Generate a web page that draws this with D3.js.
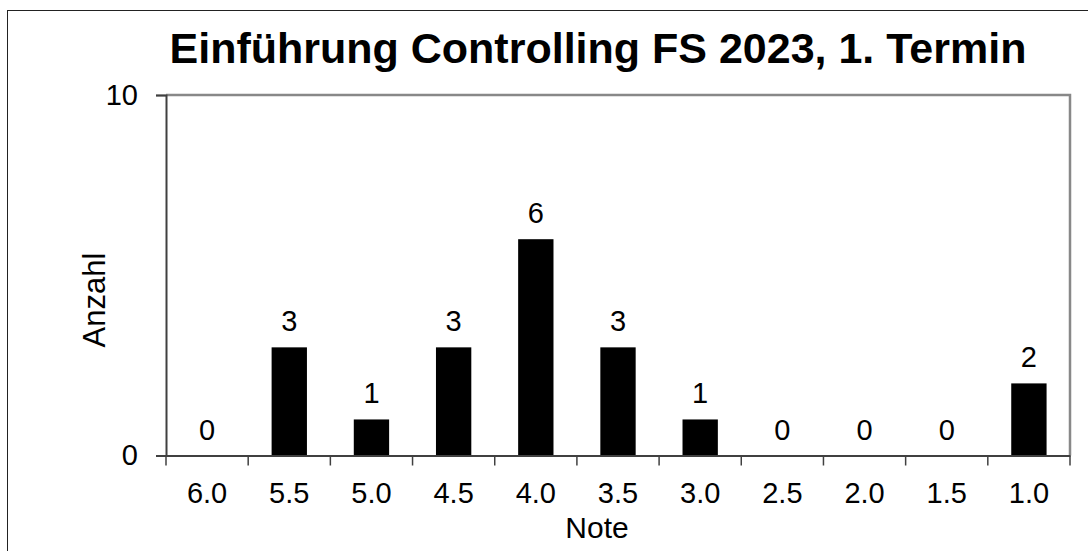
<!doctype html>
<html>
<head>
<meta charset="utf-8">
<script src="https://d3js.org/d3.v7.min.js"></script>
<style>
    body { margin: 0; background: #fff; }
    text { font-family: "Liberation Sans", Arial, sans-serif; fill: #000; }
</style>
</head>
<body>
<div id="chart"></div>
<script>

    // data
    var notes = ["6.0", "5.5", "5.0", "4.5", "4.0", "3.5", "3.0", "2.5", "2.0", "1.5", "1.0"];
    var counts = [0, 3, 1, 3, 6, 3, 1, 0, 0, 0, 2];
    var yTicks = [0, 10];

    var W = 1088, H = 551;
    var margin = {top: 95, right: 18, bottom: 95.5, left: 166},
        width = W - margin.left - margin.right,
        height = H - margin.top - margin.bottom;

    var root = d3.select("#chart").append("svg")
        .attr("width", W)
        .attr("height", H);

    // outer frame (right / bottom run off the picture)
    root.append("rect")
        .attr("x", 7.5).attr("y", 10.5)
        .attr("width", 1200).attr("height", 800)
        .attr("fill", "none")
        .attr("stroke", "#222")
        .attr("stroke-width", 1);

    root.append("text")
        .attr("x", 598)
        .attr("y", 63)
        .attr("text-anchor", "middle")
        .attr("font-size", "43px")
        .attr("font-weight", "bold")
        .text("Einführung Controlling FS 2023, 1. Termin");

    var svg = root.append("g")
        .attr("transform", "translate(" + margin.left + "," + margin.top + ")");

    var x = d3.scaleBand().domain(notes).range([0, width]).padding(0);
    var y = d3.scaleLinear().domain([0, 10]).range([height, 0]);

    // plot frame: top and right in light gray
    svg.append("path")
        .attr("d", "M0," + y(10) + "H" + width + "V" + y(0))
        .attr("fill", "none")
        .attr("stroke", "#888")
        .attr("stroke-width", 2.5);

    // bars
    var barW = x.bandwidth() * 0.43;
    svg.selectAll(".bar")
        .data(counts)
        .enter().append("rect")
        .attr("class", "bar")
        .attr("x", function(d, i) { return x(notes[i]) + (x.bandwidth() - barW) / 2; })
        .attr("width", barW)
        .attr("y", function(d) { return y(d); })
        .attr("height", function(d) { return y(0) - y(d); })
        .attr("fill", "#000");

    // value labels
    svg.selectAll(".val")
        .data(counts)
        .enter().append("text")
        .attr("class", "val")
        .attr("x", function(d, i) { return x(notes[i]) + x.bandwidth() / 2; })
        .attr("y", function(d) { return y(d) - 16; })
        .attr("text-anchor", "middle")
        .attr("font-size", "29px")
        .text(function(d) { return d; });

    // y axis
    var yAxis = svg.append("g")
        .call(d3.axisLeft(y).tickValues(yTicks).tickSize(10).tickPadding(18));
    yAxis.select(".domain").attr("stroke", "#404040").attr("stroke-width", 2);
    yAxis.selectAll(".tick line").attr("stroke", "#404040").attr("stroke-width", 1.5);
    yAxis.selectAll(".tick text")
        .attr("font-size", "29px")
        .attr("font-family", "Liberation Sans, Arial, sans-serif")
        .attr("fill", "#000");

    // x axis: labels centred, ticks on the category boundaries
    var xAxis = svg.append("g")
        .attr("transform", "translate(0," + height + ")")
        .call(d3.axisBottom(x).tickSize(0).tickPadding(27));
    xAxis.select(".domain").attr("stroke", "#404040").attr("stroke-width", 2);
    xAxis.selectAll(".tick text")
        .attr("font-size", "29px")
        .attr("font-family", "Liberation Sans, Arial, sans-serif")
        .attr("fill", "#000");

    var edges = notes.map(function(n) { return x(n); }).concat([width]);
    xAxis.selectAll(".edge")
        .data(edges)
        .enter().append("line")
        .attr("class", "edge")
        .attr("x1", function(d) { return d; })
        .attr("x2", function(d) { return d; })
        .attr("y1", 0)
        .attr("y2", 10)
        .attr("stroke", "#404040")
        .attr("stroke-width", 1.5);

    // axis titles
    svg.append("text")
        .attr("x", 597 - margin.left)
        .attr("y", height + 82)
        .attr("text-anchor", "middle")
        .attr("font-size", "30px")
        .text("Note");

    svg.append("text")
        .attr("transform", "translate(" + (105 - margin.left) + "," + (300 - margin.top) + ") rotate(-90)")
        .attr("text-anchor", "middle")
        .attr("font-size", "31px")
        .text("Anzahl");

</script>
</body>
</html>
